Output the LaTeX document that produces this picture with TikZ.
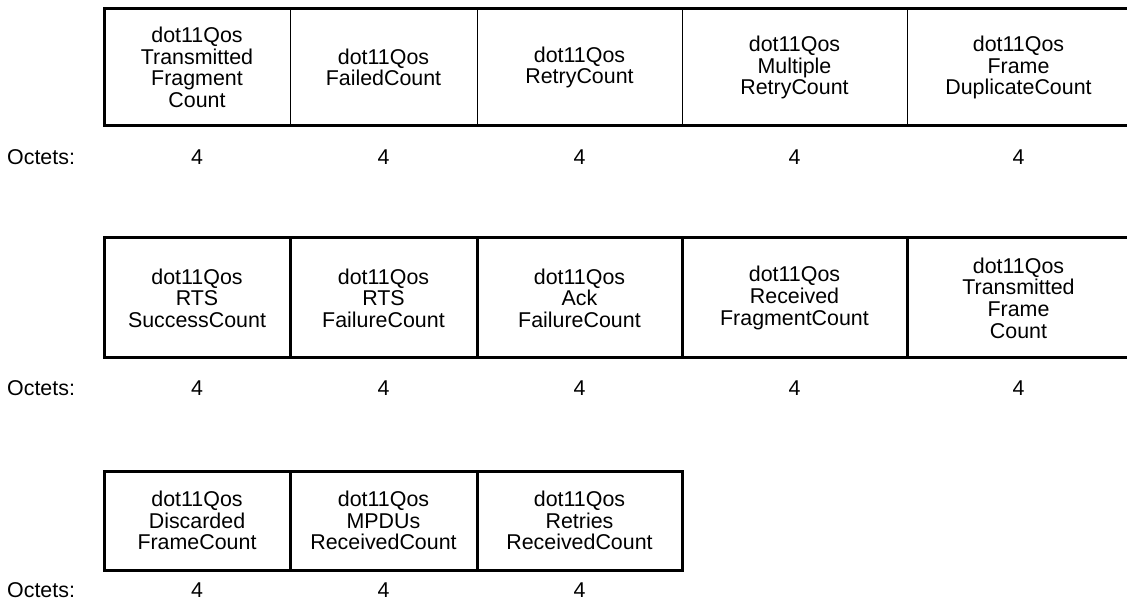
\documentclass[tikz,border=0pt]{standalone}
\usepackage{fontspec}
\setmainfont{Liberation Sans}
\usetikzlibrary{positioning}
\tikzset{
  fieldbox/.style={
    draw, align=center, inner sep=0pt, outer sep=0pt,
    font=\fontsize{21.4}{21.6}\selectfont
  },
  thinfield/.style={fieldbox, line width=1pt},
  thickfield/.style={fieldbox, line width=3pt},
  frameline/.style={line width=3pt, line cap=rect},
  octlabel/.style={font=\fontsize{21.4}{21.6}\selectfont, inner sep=0pt}
}

\begin{document}
\begin{tikzpicture}[x=1pt, y=-1pt]
  \useasboundingbox (0,0) rectangle (1127,609);

  % Row 1
  \node[thinfield, minimum width=186pt, minimum height=117pt] (r1a) at (197,67.5)
    {dot11Qos\\Transmitted\\Fragment\\Count};
  \node[thinfield, minimum width=187pt, minimum height=117pt, right=0pt of r1a] (r1b)
    {dot11Qos\\FailedCount};
  \node[thinfield, minimum width=205pt, minimum height=117pt, right=0pt of r1b] (r1c)
    {dot11Qos\\RetryCount};
  \node[thinfield, minimum width=225pt, minimum height=117pt, right=0pt of r1c] (r1d)
    {dot11Qos\\Multiple\\RetryCount};
  \node[thinfield, minimum width=223pt, minimum height=117pt, right=0pt of r1d] (r1e)
    {dot11Qos\\Frame\\DuplicateCount};
  \draw[frameline] (r1e.north east) -- (r1a.north west) -- (r1a.south west) -- (r1e.south east);

  % Row 2
  \node[thickfield, minimum width=186pt, minimum height=120pt] (r2a) at (197,298)
    {dot11Qos\\RTS\\SuccessCount};
  \node[thickfield, minimum width=187pt, minimum height=120pt, right=0pt of r2a] (r2b)
    {dot11Qos\\RTS\\FailureCount};
  \node[thickfield, minimum width=205pt, minimum height=120pt, right=0pt of r2b] (r2c)
    {dot11Qos\\Ack\\FailureCount};
  \node[thickfield, minimum width=225pt, minimum height=120pt, right=0pt of r2c] (r2d)
    {dot11Qos\\Received\\FragmentCount};
  \node[thickfield, minimum width=223pt, minimum height=120pt, right=0pt of r2d] (r2e)
    {dot11Qos\\Transmitted\\Frame\\Count};

  % Row 3
  \node[thickfield, minimum width=186pt, minimum height=99pt] (r3a) at (197,520.5)
    {dot11Qos\\Discarded\\FrameCount};
  \node[thickfield, minimum width=187pt, minimum height=99pt, right=0pt of r3a] (r3b)
    {dot11Qos\\MPDUs\\ReceivedCount};
  \node[thickfield, minimum width=205pt, minimum height=99pt, right=0pt of r3b] (r3c)
    {dot11Qos\\Retries\\ReceivedCount};

  % Octets
  \coordinate (oct1) at (0,157);
  \coordinate (oct2) at (0,388);
  \coordinate (oct3) at (0,590);
  \foreach \r/\cols in {1/{a,b,c,d,e}, 2/{a,b,c,d,e}, 3/{a,b,c}} {
    \node[octlabel, anchor=west] (oct\r name) at ([xshift=7pt]oct\r) {Octets:};
    \foreach \c in \cols {
      \node[octlabel] (oct\r\c) at (r\r\c |- oct\r) {4};
    }
  }
\end{tikzpicture}
\end{document}
